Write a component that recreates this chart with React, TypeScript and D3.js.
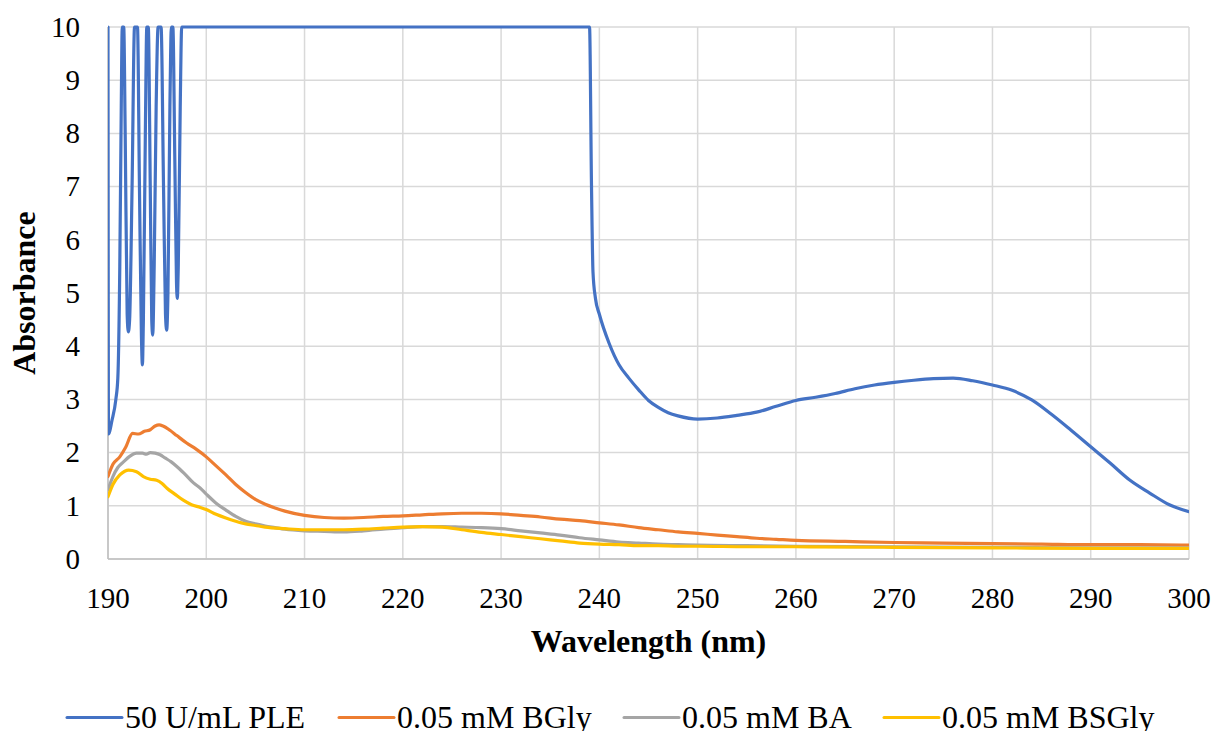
import React from 'react';
import { scaleLinear, line, curveMonotoneX } from 'd3';

// wavelength (nm), absorbance
const plePoints: [number, number][] = [
  [190.0, 10], [190.05, 2.35], [190.4, 2.6], [190.8, 3.0], [191.0, 3.4], [191.2, 5.5], [191.35, 8.5],
  [191.45, 10], [191.6, 10], [191.75, 8], [191.95, 4.6], [192.07, 4.27], [192.2, 4.5], [192.45, 7],
  [192.7, 10], [193.0, 10], [193.2, 7], [193.4, 4.2], [193.5, 3.65], [193.6, 4.5], [193.8, 8],
  [193.95, 10], [194.1, 10], [194.3, 7], [194.45, 4.5], [194.55, 4.21], [194.7, 5.5], [194.9, 8.5],
  [195.1, 10], [195.4, 10], [195.65, 7], [195.85, 4.6], [195.97, 4.3], [196.1, 5], [196.3, 8.5],
  [196.45, 10], [196.6, 10], [196.8, 7.5], [196.97, 5.2], [197.05, 4.9], [197.15, 5.5], [197.35, 8.5],
  [197.5, 10], [239.0, 10], [239.2, 7], [239.35, 5.4], [239.6, 4.9], [240, 4.6], [241, 4.05],
  [242, 3.65], [243, 3.4], [244, 3.18], [245, 2.98], [246, 2.85], [247, 2.75], [248, 2.69],
  [250, 2.63], [252, 2.65], [254, 2.7], [256, 2.76], [258, 2.87], [260, 2.98], [262, 3.04],
  [264, 3.11], [266, 3.2], [268, 3.27], [270, 3.32], [272, 3.36], [274, 3.39], [276, 3.4],
  [278, 3.35], [280, 3.27], [282, 3.17], [284, 2.99], [286, 2.72], [288, 2.42], [290, 2.11],
  [292, 1.8], [294, 1.48], [296, 1.24], [298, 1.02], [300, 0.89],
];

const bglyPoints: [number, number][] = [
  [190, 1.55], [190.5, 1.78], [191.2, 1.92], [191.8, 2.1], [192.5, 2.36], [193.1, 2.35], [193.7, 2.4],
  [194.3, 2.43], [194.8, 2.5], [195.2, 2.52], [195.6, 2.5], [196.3, 2.42], [197, 2.32], [198, 2.18],
  [199, 2.06], [200, 1.92], [201, 1.75], [202, 1.58], [203, 1.4], [204, 1.25], [205, 1.12],
  [206, 1.03], [207, 0.96], [208, 0.9], [210, 0.82], [212, 0.78], [214, 0.77], [216, 0.78],
  [218, 0.8], [220, 0.81], [222, 0.83], [224, 0.85], [226, 0.86], [228, 0.86], [230, 0.85],
  [232, 0.82], [234, 0.79], [236, 0.75], [238, 0.72], [240, 0.68], [242, 0.64], [244, 0.59],
  [246, 0.55], [248, 0.51], [250, 0.48], [252, 0.45], [254, 0.42], [256, 0.39], [258, 0.37],
  [260, 0.35], [265, 0.33], [270, 0.31], [275, 0.3], [280, 0.29], [285, 0.28], [290, 0.27],
  [295, 0.27], [300, 0.26],
];

const baPoints: [number, number][] = [
  [190, 1.3], [190.5, 1.55], [191, 1.72], [191.6, 1.83], [192.2, 1.93], [192.9, 1.99], [193.5, 1.99],
  [193.9, 1.97], [194.3, 2.0], [194.8, 1.99], [195.3, 1.96], [195.8, 1.9], [196.4, 1.83], [197, 1.74],
  [197.8, 1.6], [198.7, 1.43], [199.4, 1.33], [200, 1.22], [201, 1.05], [202, 0.92], [203, 0.8],
  [204, 0.71], [205, 0.66], [206, 0.62], [207, 0.59], [208, 0.56], [210, 0.53], [212, 0.52],
  [214, 0.51], [216, 0.53], [218, 0.56], [220, 0.59], [222, 0.61], [224, 0.61], [226, 0.6],
  [228, 0.59], [230, 0.57], [232, 0.53], [234, 0.49], [236, 0.45], [238, 0.4], [240, 0.36],
  [242, 0.32], [244, 0.3], [246, 0.28], [248, 0.27], [250, 0.26], [255, 0.25], [260, 0.24],
  [270, 0.23], [280, 0.22], [290, 0.21], [300, 0.21],
];

const bsglyPoints: [number, number][] = [
  [190, 1.17], [190.5, 1.4], [191.2, 1.58], [191.7, 1.65], [192.1, 1.67], [192.9, 1.64], [193.6, 1.55],
  [194.3, 1.5], [194.95, 1.48], [195.5, 1.42], [196, 1.33], [196.8, 1.22], [197.7, 1.1], [198.5, 1.02],
  [199.4, 0.97], [200, 0.93], [201, 0.84], [202, 0.77], [203, 0.71], [204, 0.66], [205, 0.63],
  [206, 0.6], [208, 0.57], [210, 0.55], [212, 0.55], [214, 0.55], [216, 0.56], [218, 0.58],
  [220, 0.6], [222, 0.61], [224, 0.6], [226, 0.55], [228, 0.5], [230, 0.46], [232, 0.42],
  [234, 0.38], [236, 0.34], [238, 0.3], [240, 0.28], [242, 0.27], [244, 0.25], [246, 0.25],
  [248, 0.24], [250, 0.24], [255, 0.23], [260, 0.23], [270, 0.22], [280, 0.21], [290, 0.2],
  [300, 0.2],
];

const seriesNames = ['50 U/mL PLE', '0.05 mM BGly', '0.05 mM BA', '0.05 mM BSGly'];
const seriesColors = ['#4472C4', '#ED7D31', '#A5A5A5', '#FFC000'];
const seriesData = [plePoints, bglyPoints, baPoints, bsglyPoints];

const xTicks = [190, 200, 210, 220, 230, 240, 250, 260, 270, 280, 290, 300];
const yTicks = [0, 1, 2, 3, 4, 5, 6, 7, 8, 9, 10];

const legendTextX = [125, 397, 682, 942];

const W = 1216;
const H = 731;
const left = 108;
const right = 1189;
const top = 27;
const bottom = 559;

export default function App() {
  const x = scaleLinear().domain([190, 300]).range([left, right]);
  const y = scaleLinear().domain([0, 10]).range([bottom, top]);
  const path = line<[number, number]>()
    .x(d => x(d[0]))
    .y(d => y(d[1]))
    .curve(curveMonotoneX);

  const font = '"Liberation Serif", "Times New Roman", serif';

  return (
    <svg width={W} height={H} style={{ position: 'absolute', left: 0, top: 0, background: '#fff' }}
      fontFamily={font}>
      <defs>
        <clipPath id="plot">
          <rect x={left} y={top - 2} width={right - left} height={bottom - top + 4} />
        </clipPath>
      </defs>

      {/* grid */}
      {yTicks.map(t => (
        <line key={'gy' + t} x1={left} x2={right} y1={y(t)} y2={y(t)} stroke="#d9d9d9" strokeWidth={1.5} />
      ))}
      {xTicks.map(t => (
        <line key={'gx' + t} x1={x(t)} x2={x(t)} y1={top} y2={bottom} stroke="#d9d9d9" strokeWidth={1.5} />
      ))}
      {/* axes */}
      <line x1={left} x2={left} y1={top} y2={bottom} stroke="#bfbfbf" strokeWidth={1.5} />
      <line x1={left} x2={right} y1={bottom} y2={bottom} stroke="#bfbfbf" strokeWidth={1.5} />

      {/* series */}
      <g clipPath="url(#plot)">
        {seriesData.map((d, i) => (
          <path key={seriesNames[i]} d={path(d) || ''} fill="none" stroke={seriesColors[i]}
            strokeWidth={3.2} strokeLinejoin="round" strokeLinecap="round" />
        ))}
      </g>

      {/* tick labels */}
      {yTicks.map(t => (
        <text key={'ty' + t} x={80} y={y(t)} dy="0.34em" textAnchor="end" fontSize={29}>{t}</text>
      ))}
      {xTicks.map(t => (
        <text key={'tx' + t} x={x(t)} y={608} textAnchor="middle" fontSize={29}>{t}</text>
      ))}

      {/* axis titles */}
      <text x={(left + right) / 2} y={652} textAnchor="middle" fontSize={32} fontWeight="bold">
        Wavelength (nm)
      </text>
      <text transform={`translate(35,${(top + bottom) / 2}) rotate(-90)`} textAnchor="middle"
        fontSize={32} fontWeight="bold">
        Absorbance
      </text>

      {/* legend */}
      {seriesNames.map((n, i) => (
        <g key={'lg' + n}>
          <line x1={legendTextX[i] - 58} x2={legendTextX[i] - 3} y1={717.5} y2={717.5}
            stroke={seriesColors[i]} strokeWidth={3} strokeLinecap="round" />
          <text x={legendTextX[i]} y={728} fontSize={32}>{n}</text>
        </g>
      ))}
    </svg>
  );
}
